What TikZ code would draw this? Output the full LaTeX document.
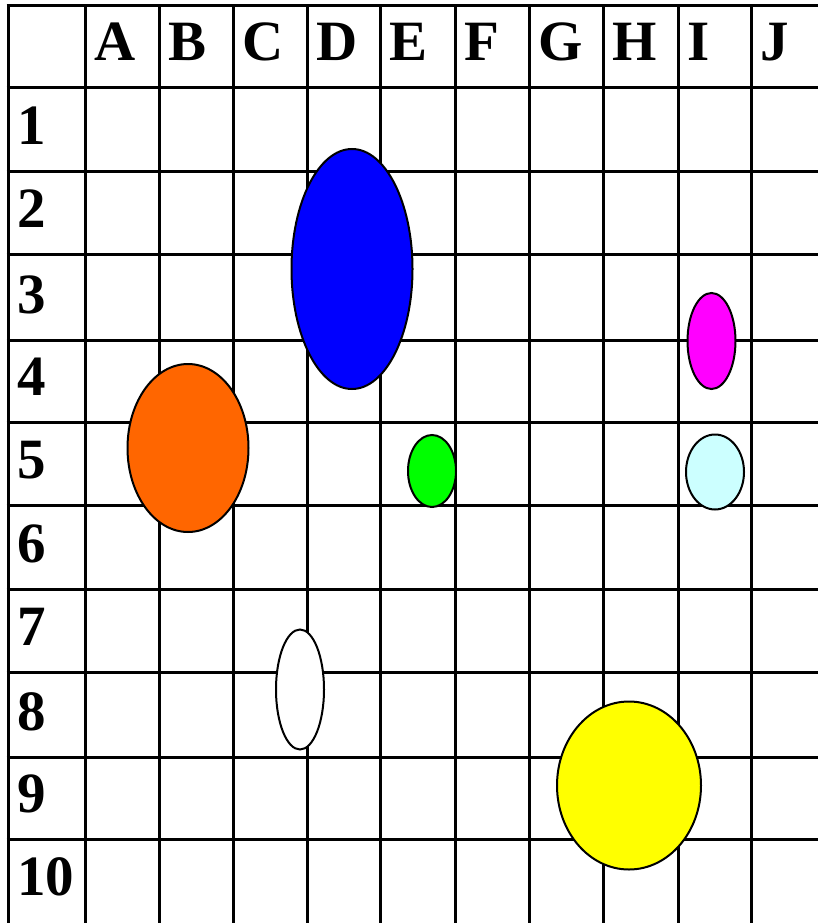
\documentclass[tikz,border=0pt]{standalone}
\usepackage{fontspec}
\setmainfont{Liberation Serif}
\usetikzlibrary{shapes.geometric}
\definecolor{blueblob}{RGB}{0,0,255}
\definecolor{orangeblob}{RGB}{255,102,0}
\definecolor{greenblob}{RGB}{0,255,0}
\definecolor{magentablob}{RGB}{255,0,255}
\definecolor{cyanblob}{RGB}{204,255,255}
\definecolor{yellowblob}{RGB}{255,255,0}
\begin{document}
\begin{tikzpicture}[x=1pt, y=-1pt,
    gridline/.style={line width=3pt},
    hdr/.style={anchor=base west, inner sep=0pt, font=\fontsize{57}{60}\selectfont\bfseries},
    blob/.style={ellipse, draw, line width=2pt, inner sep=0pt}
  ]
  \useasboundingbox (0,0) rectangle (818,923);
  \fill[white] (0,0) rectangle (818,923);
  % grid lines
  \foreach \x in {8,85,159,233,307,380,455,529,603,678,751,825}
    \draw[gridline] (\x,4.5) -- (\x,930);
  \foreach \y in {6,88,171,254,340,422,505,589,672,757,839,926}
    \draw[gridline] (6.5,\y) -- (830,\y);
  % column letters
  \foreach \c/\x in {A/85,B/159,C/233,D/307,E/380,F/455,G/529,H/603,I/678,J/751}
    \node[hdr] (col-\c) at (\x+9, 61) {\c};
  % row numbers
  \foreach \r/\y in {1/144,2/227,3/313,4/395,5/478,6/562,7/645,8/730,9/812,10/895}
    \node[hdr] (row-\r) at (17, \y) {\r};
  % ellipses
  \node[blob, fill=blueblob, minimum width=121, minimum height=240] (blue) at (352,269) {};
  \node[blob, fill=orangeblob, minimum width=121, minimum height=168] (orange) at (188,448) {};
  \node[blob, fill=greenblob, minimum width=48, minimum height=72] (green) at (432,471) {};
  \node[blob, fill=magentablob, minimum width=48, minimum height=96] (magenta) at (711.5,341) {};
  \node[blob, fill=cyanblob, minimum width=58, minimum height=75] (cyan) at (715,472) {};
  \node[blob, fill=white, minimum width=48, minimum height=120] (white) at (300,689.5) {};
  \node[blob, fill=yellowblob, minimum width=144, minimum height=168] (yellow) at (629,785.5) {};
\end{tikzpicture}
\end{document}
